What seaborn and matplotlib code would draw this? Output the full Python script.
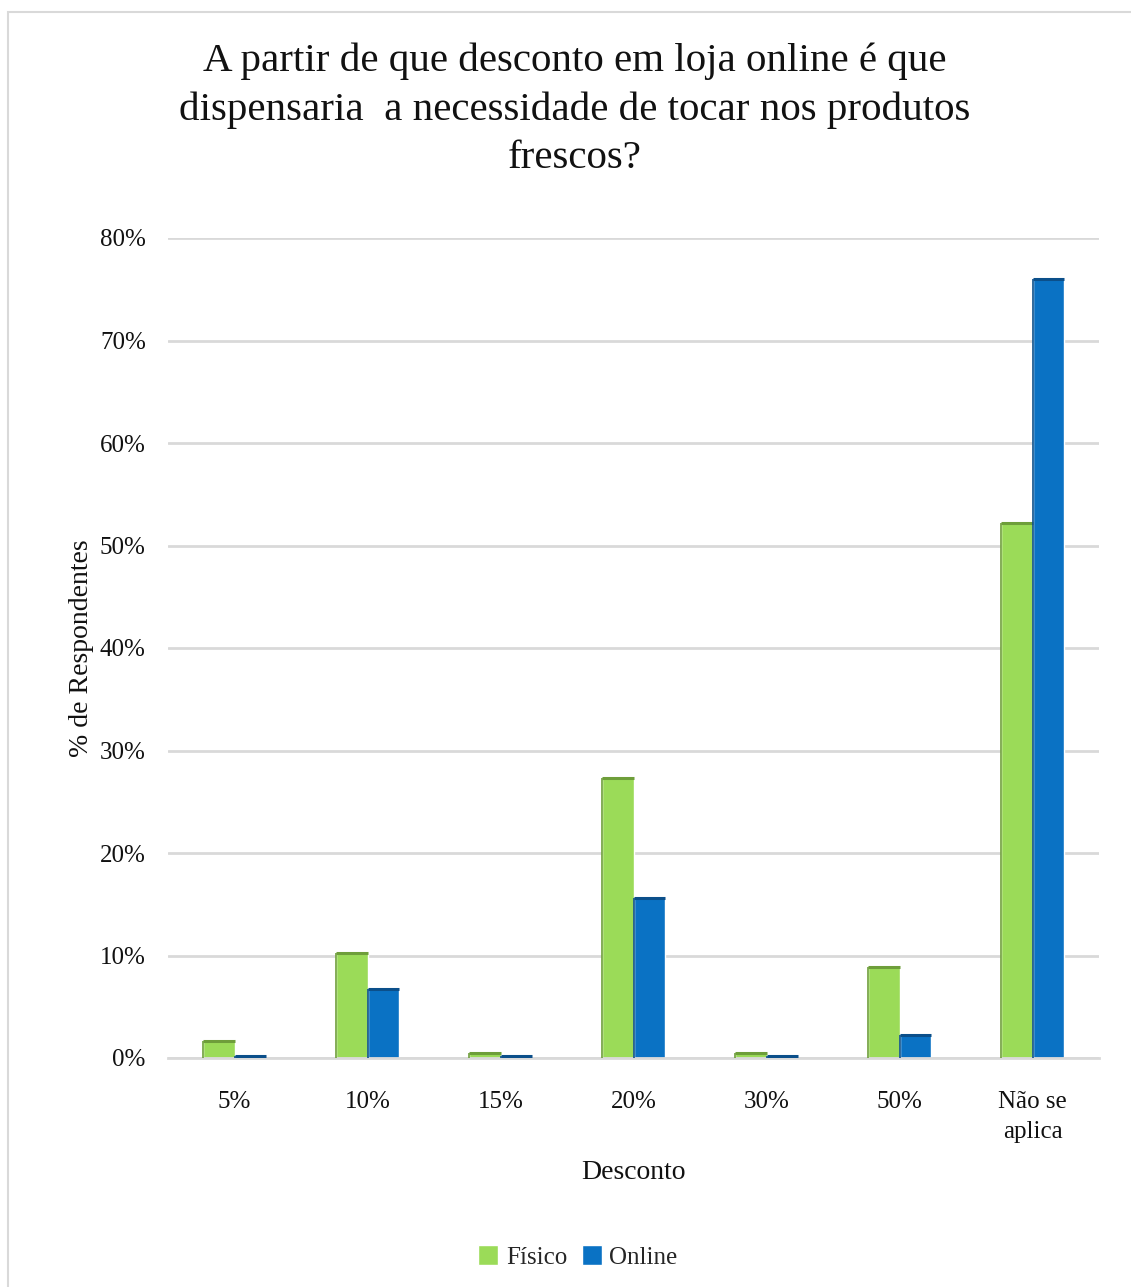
import matplotlib
matplotlib.use("Agg")
import matplotlib.pyplot as plt
import seaborn as sns
import pandas as pd
from matplotlib.patches import Rectangle
from matplotlib.ticker import PercentFormatter

# Survey results (% of respondents)
descontos = ["5%", "10%", "15%", "20%", "30%", "50%", "Não se\naplica"]
fisico = [1.7, 10.2, 0.5, 27.3, 0.5, 8.9, 52.2]
online = [0.2, 6.7, 0.2, 15.6, 0.2, 2.2, 76.0]
series = ["Físico", "Online"]
cores = ["#9BDB58", "#0A72C4"]

df = pd.DataFrame({
    "Desconto": descontos * 2,
    "Valor": fisico + online,
    "Loja": [series[0]] * len(descontos) + [series[1]] * len(descontos),
})

sns.set_theme(style="white")
plt.rcParams["font.family"] = ["Liberation Serif", "DejaVu Serif"]

W, H = 1131, 1287
fig = plt.figure(figsize=(W / 100, H / 100), dpi=100)
ax = fig.add_axes([168 / W, 1 - 1058 / H, (1099 - 168) / W, (1058 - 238) / H])

sns.barplot(data=df, x="Desconto", y="Valor", hue="Loja", order=descontos,
            hue_order=series, palette=cores, width=0.48, gap=0,
            saturation=1, ax=ax, legend=True)

# darker top and side edges, hinting at the bevelled bars
for cont, dark in zip(ax.containers, ["#6E9E3A", "#0B4F8A"]):
    for bar in cont:
        x0, w, h = bar.get_x(), bar.get_width(), bar.get_height()
        ax.plot([x0, x0 + w], [h, h], color=dark, lw=2.2, solid_capstyle="butt", zorder=3)
        ax.plot([x0, x0], [0, h], color=dark, lw=1.2, solid_capstyle="butt", zorder=3)

ax.set_ylim(0, 80)
ax.set_xlim(-0.5, 6.5)
ax.yaxis.set_major_formatter(PercentFormatter(decimals=0))
ax.set_yticks(range(0, 81, 10))
ax.grid(axis="y", color="#D9D9D9", lw=2)
ax.set_axisbelow(True)
for s in ["top", "right", "left"]:
    ax.spines[s].set_visible(False)
ax.spines["bottom"].set_color("#D9D9D9")
ax.spines["bottom"].set_linewidth(2)
ax.tick_params(axis="y", labelsize=18, pad=16, length=0, colors="#111111")
ax.tick_params(axis="x", labelsize=18, pad=24, length=0, colors="#111111")
for lbl in ax.get_xticklabels():
    lbl.set_linespacing(1.45)
ax.set_xlabel("Desconto", fontsize=20, labelpad=12, color="#111111")
ax.set_ylabel("% de Respondentes", fontsize=20, labelpad=4, color="#111111")

fig.text(575 / W, 1 - 110 / H,
         "A partir de que desconto em loja online é que\n"
         "dispensaria  a necessidade de tocar nos produtos\nfrescos?",
         ha="center", va="center", fontsize=29.5, linespacing=1.4, color="#111111")

handles, labels = ax.get_legend_handles_labels()
ax.legend(handles, labels, loc="center", bbox_to_anchor=(578 / W, 1 - 1257 / H),
          bbox_transform=fig.transFigure, ncol=2, frameon=False, fontsize=18,
          handlelength=0.8, handleheight=0.8, handletextpad=0.3, columnspacing=0.6)

fig.patches.append(Rectangle((8 / W, -0.01), 1.2, 1 - 12 / H + 0.01,
                             transform=fig.transFigure, fill=False,
                             edgecolor="#D9D9D9", lw=1.5))

fig.savefig("out.png", dpi=100, facecolor="white")
